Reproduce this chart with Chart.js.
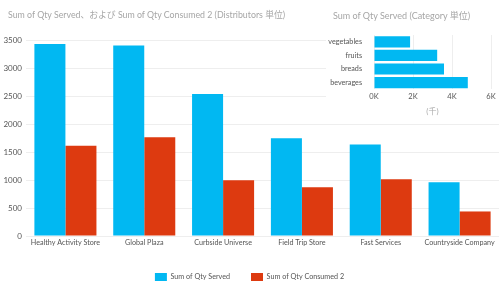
<!DOCTYPE html>
<html>
<head>
<meta charset="utf-8">
<script src="https://cdn.jsdelivr.net/npm/chart.js@4"></script>
<style>
  html, body { margin: 0; padding: 0; background: #fff; }
  #wrap { position: relative; width: 500px; height: 288px; }
  .title {
    position: absolute; z-index: 2;
    font: 9px Lato, "Noto Sans CJK JP", sans-serif; color: #a6a6a6; white-space: nowrap;
  }
  #mainTitle { left: 8px; top: 8px; font-size: 8.8px; }
  #insetTitle { left: 333px; top: 9px; }
  #inset { position: absolute; left: 326px; top: 0; width: 174px; height: 116px; background: #fff; z-index: 1; }
</style>
</head>
<body>
<div id="wrap">
  <canvas id="mainChart" width="500" height="288"></canvas>
  <div id="mainTitle" class="title">Sum of Qty Served、および Sum of Qty Consumed 2 (Distributors 単位)</div>
  <div id="inset"><canvas id="insetChart" width="174" height="116"></canvas></div>
  <div id="insetTitle" class="title">Sum of Qty Served (Category 単位)</div>
</div>
<script>
// --- DATA ---
const distributors = ['Healthy Activity Store', 'Global Plaza', 'Curbside Universe', 'Field Trip Store', 'Fast Services', 'Countryside Company'];
const qtyServed = [3430, 3400, 2535, 1745, 1635, 960];
const qtyConsumed = [1610, 1765, 995, 870, 1015, 438];

const categories = ['vegetables', 'fruits', 'breads', 'beverages'];
const categoryServed = [1850, 3240, 3590, 4810];

const BLUE = '#01B8F2';
const RED = '#DD3A10';
const FONT = 'Lato, "Noto Sans CJK JP", sans-serif';

// --- MAIN CLUSTERED COLUMNS ---
new Chart(document.getElementById('mainChart'), {
  type: 'bar',
  data: {
    labels: distributors,
    datasets: [
      { label: 'Sum of Qty Served', data: qtyServed, backgroundColor: BLUE },
      { label: 'Sum of Qty Consumed 2', data: qtyConsumed, backgroundColor: RED }
    ]
  },
  options: {
    responsive: false,
    animation: false,
    categoryPercentage: 0.787,
    barPercentage: 1.0,
    layout: { padding: { top: 40, right: 1, left: 0, bottom: -3 } },
    scales: {
      x: {
        grid: { display: false, drawTicks: false },
        border: { display: false },
        ticks: { color: '#555', font: { family: FONT, size: 7.2 }, padding: 2, maxRotation: 0, autoSkip: false },
        afterFit: s => { s.height = 16; }
      },
      y: {
        min: 0, max: 3500,
        ticks: { stepSize: 500, color: '#555', font: { family: FONT, size: 8 }, padding: 4, callback: v => String(v) },
        grid: { color: '#eeeeee', drawTicks: false },
        border: { display: false },
        afterFit: s => { s.width = 26; }
      }
    },
    plugins: {
      legend: {
        position: 'bottom',
        labels: { boxWidth: 12, boxHeight: 8, color: '#555', font: { family: FONT, size: 7.2 }, padding: 21 }
      },
      tooltip: { enabled: false }
    }
  }
});

// --- INSET HORIZONTAL BARS ---
new Chart(document.getElementById('insetChart'), {
  type: 'bar',
  data: {
    labels: categories,
    datasets: [{ label: 'Sum of Qty Served', data: categoryServed, backgroundColor: BLUE }]
  },
  options: {
    indexAxis: 'y',
    responsive: false,
    animation: false,
    barPercentage: 0.82,
    categoryPercentage: 1.0,
    layout: { padding: { top: 35, right: 9, left: 0, bottom: 0 } },
    scales: {
      x: {
        min: 0, max: 6000,
        ticks: { stepSize: 2000, color: '#555', font: { family: FONT, size: 7.5 }, padding: 3, callback: v => (v / 1000) + 'K' },
        grid: { color: '#eeeeee', drawTicks: false },
        border: { display: false },
        title: { display: true, text: '(千)', color: '#aaa', font: { family: FONT, size: 8 }, padding: { top: 2, bottom: 0 } }
      },
      y: {
        grid: { display: false },
        border: { display: false },
        ticks: { color: '#555', font: { family: FONT, size: 7.2 }, padding: 4, autoSkip: false },
        afterFit: s => { s.width = 48; }
      }
    },
    plugins: {
      legend: { display: false },
      tooltip: { enabled: false }
    }
  }
});
</script>
</body>
</html>
